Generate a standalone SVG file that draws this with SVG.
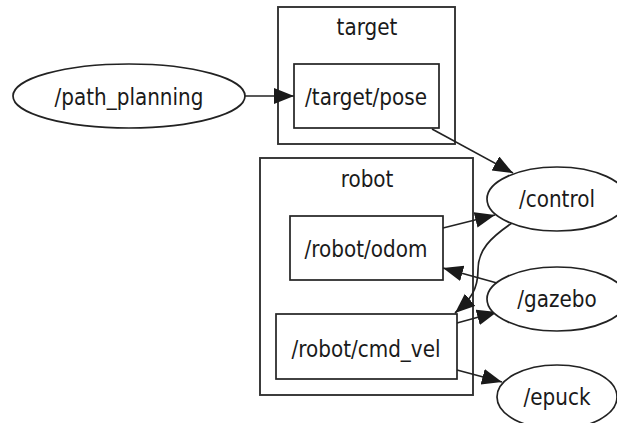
<svg xmlns="http://www.w3.org/2000/svg" width="617" height="423" viewBox="0 0 617 423">
<style>
.bg{fill:#ffffff}
.cl{fill:none;stroke:#333333;stroke-width:1.9}
.nd{fill:#ffffff;stroke:#222222;stroke-width:1.7}
.ed{fill:none;stroke:#222222;stroke-width:1.7}
text{font-family:"DejaVu Sans",Verdana,sans-serif;font-size:20px;fill:#1a1a1a;text-anchor:middle}
</style>
<defs>
<marker id="ah" markerUnits="userSpaceOnUse" markerWidth="22" markerHeight="18" refX="20" refY="8" orient="auto" viewBox="0 0 22 18">
<path d="M0,0 L20,8 L0,16 Z" fill="#1a1a1a"/>
</marker>
</defs>
<rect class="bg" x="0" y="0" width="617" height="423"/>
<g id="cluster_target">
<rect class="cl" x="278" y="7" width="177" height="137"/>
<text transform="translate(367,35) scale(1,1.18)">target</text>
</g>
<g id="cluster_robot">
<rect class="cl" x="260" y="158" width="213" height="237"/>
<text transform="translate(367,187) scale(1,1.18)">robot</text>
</g>
<g id="connectors">
<path class="ed" marker-end="url(#ah)" d="M245,96 L294,96"/>
<path class="ed" marker-end="url(#ah)" d="M432,129 L513,173"/>
<path class="ed" marker-end="url(#ah)" d="M443,228 L495,215"/>
<path class="ed" marker-end="url(#ah)" d="M512,223 C490,238 478,250 478,270 C478,290 470,300 455,313"/>
<path class="ed" marker-end="url(#ah)" d="M497,283 L443,268"/>
<path class="ed" marker-end="url(#ah)" d="M457,323 L497,312"/>
<path class="ed" marker-end="url(#ah)" d="M457,370 L502,382"/>
</g>
<g id="path_planning">
<ellipse class="nd" cx="129" cy="96" rx="116" ry="32"/>
<text transform="translate(129,105) scale(1,1.18)">/path_planning</text>
</g>
<g id="target_pose">
<rect class="nd" x="294" y="64" width="145" height="64"/>
<text transform="translate(366,105) scale(1,1.18)">/target/pose</text>
</g>
<g id="robot_odom">
<rect class="nd" x="290" y="216" width="153" height="64"/>
<text transform="translate(366,257) scale(1,1.18)">/robot/odom</text>
</g>
<g id="robot_cmd_vel">
<rect class="nd" x="276" y="314" width="181" height="65"/>
<text transform="translate(366,357) scale(1,1.18)">/robot/cmd_vel</text>
</g>
<g id="control">
<ellipse class="nd" cx="557" cy="199" rx="70" ry="32"/>
<text transform="translate(557,207) scale(1,1.18)">/control</text>
</g>
<g id="gazebo">
<ellipse class="nd" cx="557" cy="299" rx="70" ry="32"/>
<text transform="translate(557,307) scale(1,1.18)">/gazebo</text>
</g>
<g id="epuck">
<ellipse class="nd" cx="557" cy="397" rx="60" ry="32"/>
<text transform="translate(557,405) scale(1,1.18)">/epuck</text>
</g>
</svg>
